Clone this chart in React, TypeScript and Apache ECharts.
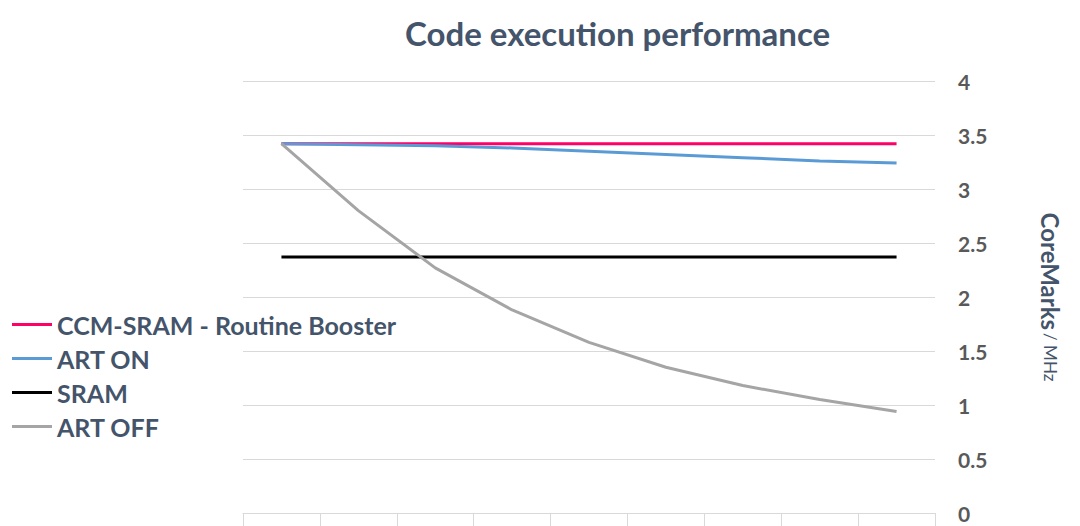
import React, { useEffect, useRef } from "react";
import * as echarts from "echarts";

const categories = ["1", "2", "3", "4", "5", "6", "7", "8", "9"];
const seriesNames = ["CCM-SRAM - Routine Booster", "ART ON", "SRAM", "ART OFF"];
const ccmSram = [3.42, 3.42, 3.42, 3.42, 3.42, 3.42, 3.42, 3.42, 3.42];
const artOn = [3.42, 3.41, 3.4, 3.38, 3.35, 3.32, 3.29, 3.26, 3.24];
const sram = [2.37, 2.37, 2.37, 2.37, 2.37, 2.37, 2.37, 2.37, 2.37];
const artOff = [3.42, 2.8, 2.27, 1.88, 1.58, 1.35, 1.18, 1.05, 0.94];
const seriesColors = ["#ff0066", "#5b9bd5", "#000000", "#a5a5a5"];

export default function App() {
  const ref = useRef<HTMLDivElement>(null);
  useEffect(() => {
    document.body.style.margin = "0";
    if (!ref.current) return;
    const chart = echarts.init(ref.current, undefined, { renderer: "svg" });
    const values = [ccmSram, artOn, sram, artOff];
    chart.setOption({
      animation: false,
      textStyle: { fontFamily: "Lato" },
      title: {
        text: "Code execution performance",
        left: 400,
        top: 11,
        textStyle: { fontFamily: "Lato", fontWeight: "bold", fontSize: 33, color: "#44546a" },
      },
      legend: {
        orient: "vertical",
        left: 7,
        top: 307,
        itemWidth: 40,
        itemHeight: 3,
        itemGap: 9,
        icon: "rect",
        data: seriesNames,
        textStyle: { fontFamily: "Lato", fontWeight: "bold", fontSize: 25, color: "#44546a", lineHeight: 25 },
      },
      grid: { left: 243, right: 145, top: 81, bottom: 13, containLabel: false },
      xAxis: {
        type: "category",
        data: categories,
        boundaryGap: true,
        axisLine: { lineStyle: { color: "#d9d9d9", width: 1 } },
        axisTick: { show: true, length: 14, lineStyle: { color: "#d9d9d9" } },
        axisLabel: { show: false },
        splitLine: { show: false },
      },
      yAxis: {
        type: "value",
        position: "right",
        min: 0,
        max: 4,
        interval: 0.5,
        axisLine: { show: false },
        axisTick: { show: false },
        axisLabel: { margin: 23, fontFamily: "Lato", fontWeight: "bold", fontSize: 21, color: "#595959" },
        splitLine: { lineStyle: { color: "#d9d9d9", width: 1 } },
        name: "{a|CoreMarks} {b|/ MHz}",
        nameLocation: "middle",
        nameRotate: -90,
        nameGap: 103,
        nameTextStyle: {
          rich: {
            a: { fontFamily: "Lato", fontWeight: "bold", fontSize: 24, color: "#44546a" },
            b: { fontFamily: "Lato", fontSize: 17, color: "#44546a" },
          },
        },
      },
      series: seriesNames.map((name, i) => ({
        name,
        type: "line",
        data: values[i],
        symbol: "none",
        showSymbol: false,
        lineStyle: { color: seriesColors[i], width: 3 },
        itemStyle: { color: seriesColors[i] },
      })),
    });
    return () => chart.dispose();
  }, []);
  return <div ref={ref} style={{ width: 1080, height: 526 }} />;
}
